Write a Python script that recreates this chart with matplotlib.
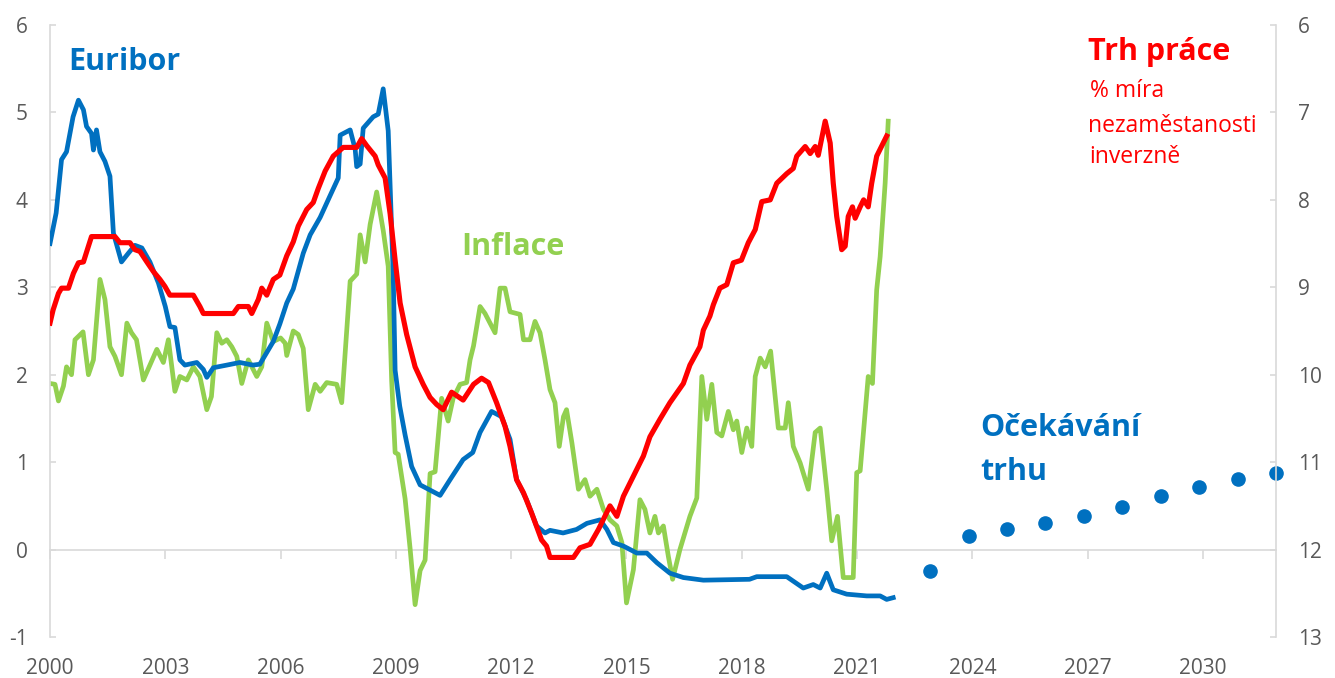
import matplotlib
matplotlib.use('Agg')
import matplotlib.pyplot as plt

plt.rcParams['font.family'] = ['Open Sans', 'DejaVu Sans']
plt.rcParams['axes.unicode_minus'] = False

# --- data ---
# 12M Euribor (left axis, %)
eur_x = [2000.0, 2000.16, 2000.3, 2000.43, 2000.6, 2000.74, 2000.87, 2000.95, 2001.08, 2001.13,
         2001.21, 2001.3, 2001.43, 2001.56, 2001.65, 2001.86, 2002.04, 2002.21, 2002.39, 2002.6,
         2002.82, 2003.0, 2003.12, 2003.25, 2003.38, 2003.51, 2003.82, 2003.99, 2004.08, 2004.25,
         2004.6, 2004.94, 2005.28, 2005.46, 2005.81, 2005.98, 2006.16, 2006.33, 2006.59, 2006.77,
         2007.03, 2007.29, 2007.5, 2007.55, 2007.81, 2007.94, 2007.98, 2008.07, 2008.15, 2008.41,
         2008.54, 2008.67, 2008.8, 2008.93, 2008.98, 2009.1, 2009.24, 2009.41, 2009.63, 2009.89,
         2010.15, 2010.41, 2010.75, 2011.0, 2011.19, 2011.49, 2011.75, 2011.97, 2012.14, 2012.4,
         2012.66, 2012.88, 2013.01, 2013.35, 2013.7, 2013.97, 2014.31, 2014.49, 2014.66, 2014.92,
         2015.27, 2015.53, 2015.79, 2016.13, 2016.48, 2017.0, 2018.2, 2018.39, 2019.17, 2019.6,
         2019.86, 2020.04, 2020.21, 2020.38, 2020.73, 2021.25, 2021.6, 2021.77, 2021.94]
eur_y = [3.5, 3.85, 4.46, 4.55, 4.95, 5.14, 5.03, 4.84, 4.76, 4.57,
         4.8, 4.55, 4.44, 4.27, 3.62, 3.29, 3.39, 3.48, 3.45, 3.29,
         3.05, 2.78, 2.55, 2.54, 2.17, 2.11, 2.14, 2.06, 1.97, 2.08,
         2.11, 2.14, 2.11, 2.12, 2.38, 2.58, 2.82, 2.98, 3.39, 3.6,
         3.8, 4.05, 4.25, 4.74, 4.8, 4.58, 4.38, 4.41, 4.82, 4.95,
         4.98, 5.27, 4.79, 3.15, 2.05, 1.64, 1.31, 0.95, 0.74, 0.68,
         0.62, 0.8, 1.03, 1.11, 1.34, 1.58, 1.52, 1.26, 0.8, 0.57,
         0.27, 0.19, 0.22, 0.19, 0.23, 0.3, 0.34, 0.23, 0.08, 0.04,
         -0.04, -0.04, -0.15, -0.27, -0.32, -0.35, -0.34, -0.31, -0.31, -0.44,
         -0.4, -0.44, -0.27, -0.46, -0.51, -0.53, -0.53, -0.57, -0.55]

# inflation (left axis, %)
inf_x = [2000.0, 2000.13, 2000.22, 2000.35, 2000.43, 2000.56, 2000.65, 2000.86, 2001.0, 2001.13,
         2001.3, 2001.43, 2001.56, 2001.69, 2001.86, 2002.0, 2002.12, 2002.25, 2002.43, 2002.6,
         2002.78, 2002.95, 2003.08, 2003.25, 2003.38, 2003.56, 2003.73, 2003.9, 2004.08, 2004.2,
         2004.34, 2004.47, 2004.6, 2004.73, 2004.86, 2004.99, 2005.16, 2005.38, 2005.51, 2005.64,
         2005.81, 2006.0, 2006.12, 2006.16, 2006.33, 2006.46, 2006.59, 2006.72, 2006.9, 2007.03,
         2007.2, 2007.46, 2007.59, 2007.81, 2007.98, 2008.07, 2008.2, 2008.33, 2008.5, 2008.67,
         2008.8, 2008.89, 2008.98, 2009.06, 2009.24, 2009.37, 2009.5, 2009.63, 2009.76, 2009.89,
         2010.02, 2010.19, 2010.36, 2010.49, 2010.67, 2010.84, 2010.93, 2011.02, 2011.19, 2011.32,
         2011.58, 2011.71, 2011.84, 2011.97, 2012.23, 2012.32, 2012.49, 2012.62, 2012.75, 2012.88,
         2013.01, 2013.14, 2013.25, 2013.36, 2013.44, 2013.58, 2013.75, 2013.92, 2014.05, 2014.23,
         2014.4, 2014.57, 2014.75, 2014.88, 2015.0, 2015.18, 2015.35, 2015.48, 2015.61, 2015.74,
         2015.83, 2015.96, 2016.09, 2016.2, 2016.39, 2016.52, 2016.65, 2016.83, 2016.96, 2017.09,
         2017.22, 2017.35, 2017.48, 2017.65, 2017.78, 2017.87, 2018.0, 2018.13, 2018.26, 2018.35,
         2018.48, 2018.61, 2018.75, 2018.95, 2019.13, 2019.21, 2019.34, 2019.52, 2019.73, 2019.91,
         2020.04, 2020.21, 2020.34, 2020.49, 2020.64, 2020.9, 2020.99, 2021.08, 2021.29, 2021.4,
         2021.51, 2021.6, 2021.73, 2021.81]
inf_y = [1.9, 1.89, 1.7, 1.87, 2.09, 2.0, 2.4, 2.49, 2.0, 2.17,
         3.09, 2.86, 2.32, 2.21, 2.0, 2.59, 2.48, 2.4, 1.94, 2.11,
         2.29, 2.14, 2.4, 1.81, 1.98, 1.94, 2.09, 1.98, 1.6, 1.75,
         2.48, 2.36, 2.4, 2.32, 2.21, 1.9, 2.17, 1.98, 2.09, 2.59,
         2.38, 2.42, 2.36, 2.22, 2.5, 2.46, 2.3, 1.6, 1.89, 1.81,
         1.91, 1.89, 1.68, 3.07, 3.15, 3.6, 3.29, 3.72, 4.09, 3.65,
         3.24, 1.93, 1.11, 1.09, 0.58, 0.01, -0.63, -0.24, -0.12, 0.87,
         0.89, 1.73, 1.47, 1.73, 1.89, 1.91, 2.17, 2.33, 2.78, 2.7,
         2.48, 2.99, 2.99, 2.72, 2.69, 2.4, 2.4, 2.61, 2.48, 2.17,
         1.83, 1.68, 1.18, 1.52, 1.6, 1.22, 0.69, 0.8, 0.61, 0.69,
         0.46, 0.34, 0.27, 0.08, -0.61, -0.23, 0.57, 0.46, 0.19, 0.38,
         0.19, 0.27, -0.08, -0.34, 0.0, 0.19, 0.38, 0.59, 1.98, 1.49,
         1.89, 1.34, 1.3, 1.58, 1.37, 1.47, 1.11, 1.39, 1.18, 1.98,
         2.19, 2.09, 2.27, 1.39, 1.39, 1.68, 1.18, 0.99, 0.69, 1.34,
         1.39, 0.69, 0.1, 0.38, -0.32, -0.32, 0.88, 0.9, 1.98, 1.9,
         2.97, 3.35, 4.19, 4.9]

# unemployment rate (right axis, inverted, %)
une_x = [2000.0, 2000.08, 2000.22, 2000.3, 2000.48, 2000.61, 2000.74, 2000.87, 2001.0, 2001.08,
         2001.69, 2001.82, 2002.08, 2002.21, 2002.34, 2002.52, 2002.69, 2002.86, 2002.99, 2003.12,
         2003.73, 2003.9, 2003.99, 2004.77, 2004.9, 2005.16, 2005.25, 2005.42, 2005.51, 2005.64,
         2005.81, 2005.98, 2006.16, 2006.33, 2006.46, 2006.68, 2006.85, 2006.98, 2007.16, 2007.37,
         2007.63, 2007.98, 2008.11, 2008.24, 2008.46, 2008.54, 2008.72, 2008.85, 2008.98, 2009.11,
         2009.28, 2009.5, 2009.71, 2009.89, 2010.06, 2010.23, 2010.45, 2010.75, 2011.02, 2011.23,
         2011.41, 2011.62, 2011.84, 2011.97, 2012.14, 2012.32, 2012.53, 2012.79, 2012.92, 2013.01,
         2013.62, 2013.79, 2014.05, 2014.27, 2014.57, 2014.75, 2014.92, 2015.18, 2015.44, 2015.61,
         2015.87, 2016.13, 2016.48, 2016.65, 2016.91, 2017.0, 2017.17, 2017.26, 2017.43, 2017.61,
         2017.78, 2017.99, 2018.17, 2018.35, 2018.52, 2018.74, 2018.91, 2019.17, 2019.34, 2019.43,
         2019.65, 2019.78, 2019.91, 2019.99, 2020.17, 2020.3, 2020.38, 2020.47, 2020.6, 2020.69,
         2020.77, 2020.88, 2020.95, 2021.08, 2021.17, 2021.29, 2021.38, 2021.51, 2021.77]
une_y = [9.41, 9.26, 9.07, 9.01, 9.01, 8.84, 8.72, 8.71, 8.53, 8.42,
         8.42, 8.49, 8.49, 8.57, 8.59, 8.71, 8.82, 8.91, 8.99, 9.09,
         9.09, 9.22, 9.3, 9.3, 9.22, 9.22, 9.3, 9.14, 9.01, 9.09,
         8.91, 8.86, 8.64, 8.48, 8.3, 8.11, 8.03, 7.87, 7.67, 7.5,
         7.4, 7.4, 7.3, 7.38, 7.5, 7.6, 7.75, 8.16, 8.69, 9.18,
         9.54, 9.91, 10.11, 10.26, 10.34, 10.4, 10.2, 10.29, 10.11, 10.04,
         10.09, 10.32, 10.59, 10.82, 11.2, 11.35, 11.58, 11.89, 11.96, 12.09,
         12.09, 11.98, 11.94, 11.77, 11.5, 11.62, 11.39, 11.16, 10.93, 10.71,
         10.51, 10.32, 10.1, 9.89, 9.68, 9.49, 9.33, 9.2, 9.01, 8.97,
         8.72, 8.69, 8.49, 8.34, 8.02, 8.0, 7.81, 7.7, 7.64, 7.5,
         7.39, 7.47, 7.39, 7.49, 7.1, 7.35, 7.81, 8.19, 8.57, 8.53,
         8.19, 8.08, 8.21, 8.08, 8.0, 8.08, 7.81, 7.5, 7.27]

# market expectations for Euribor (left axis, %)
exp_x = [2022.9, 2023.9, 2024.9, 2025.9, 2026.9, 2027.9, 2028.9, 2029.9, 2030.9, 2031.9]
exp_y = [-0.24, 0.15, 0.24, 0.30, 0.38, 0.49, 0.61, 0.72, 0.81, 0.88]

year_ticks = [2000, 2003, 2006, 2009, 2012, 2015, 2018, 2021, 2024, 2027, 2030]

BLUE = '#0070c0'
RED = '#ff0000'
GREEN = '#92d050'
GRID = '#d9d9d9'
LAB = '#595959'

fig = plt.figure(figsize=(13.35, 6.78), dpi=100)
ax = fig.add_axes([50 / 1335, 1 - 637 / 678, (1276 - 50) / 1335, (637 - 25) / 678])
ax2 = ax.twinx()

ax.plot(inf_x, inf_y, color=GREEN, lw=3.4, zorder=2, solid_joinstyle='round')
ax.plot(eur_x, eur_y, color=BLUE, lw=3.4, zorder=3, solid_joinstyle='round')
ax.plot(exp_x, exp_y, 'o', color=BLUE, ms=9.5, zorder=4, clip_on=False)
ax2.plot(une_x, une_y, color=RED, lw=3.7, solid_joinstyle='round')

ax.set_xlim(2000, 2031.9)
ax.set_ylim(-1, 6)
ax2.set_ylim(13, 6)
ax.set_yticks(range(-1, 7))
ax2.set_yticks(range(6, 14))

for a in (ax, ax2):
    for s in a.spines.values():
        s.set_visible(False)
ax.spines['left'].set_visible(True)
ax.spines['left'].set_color(GRID)
ax.spines['left'].set_linewidth(1.2)
ax2.spines['right'].set_visible(True)
ax2.spines['right'].set_color(GRID)
ax2.spines['right'].set_linewidth(1.2)

ax.tick_params(axis='y', direction='in', length=4.5, width=1.2, color=GRID,
               labelcolor=LAB, labelsize=15, pad=16)
ax2.tick_params(axis='y', direction='in', length=4.5, width=1.2, color=GRID,
                labelcolor=LAB, labelsize=15, pad=16)

# year labels at the bottom, tick marks on the zero line
ax.set_xticks(year_ticks)
ax.set_xticklabels([str(y) for y in year_ticks])
ax.tick_params(axis='x', length=0, labelcolor=LAB, labelsize=15, pad=15)

zero = ax.secondary_xaxis(1 / 7)
zero.set_xticks(year_ticks)
zero.tick_params(axis='x', direction='out', length=6.5, width=1.2, color=GRID, labelbottom=False)
zero.spines['bottom'].set_color(GRID)
zero.spines['bottom'].set_linewidth(1.2)
for k in ('top', 'left', 'right'):
    zero.spines[k].set_visible(False)

# labels
ax.text(2000.47, 5.49, 'Euribor', color=BLUE, fontsize=22, fontweight='bold')
ax.text(2010.69, 3.37, 'Inflace', color=GREEN, fontsize=22, fontweight='bold')
ax.text(2024.2, 1.30, 'Očekávání', color=BLUE, fontsize=22, fontweight='bold')
ax.text(2024.2, 0.80, 'trhu', color=BLUE, fontsize=22, fontweight='bold')
ax.text(2027.0, 5.60, 'Trh práce', color=RED, fontsize=22, fontweight='bold')
ax.text(2027.05, 5.18, '% míra', color=RED, fontsize=16.5)
ax.text(2027.0, 4.78, 'nezaměstanosti', color=RED, fontsize=16.5)
ax.text(2027.05, 4.42, 'inverzně', color=RED, fontsize=16.5)

fig.savefig('out.png', dpi=100)
